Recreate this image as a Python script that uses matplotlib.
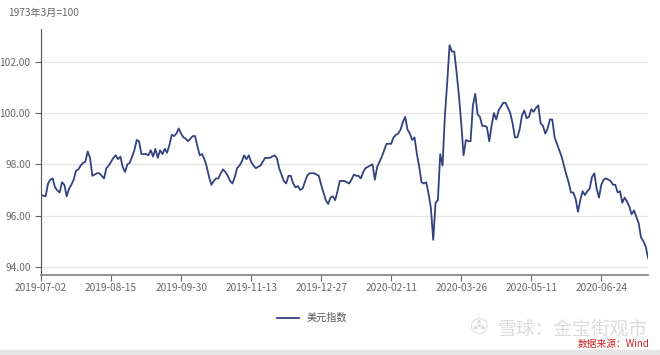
import matplotlib.pyplot as plt
import matplotlib.patches as mpatches

plt.rcParams['font.family'] = ['Noto Sans CJK SC', 'DejaVu Sans']

# 美元指数, 2019-07-02 起的交易日
tick_dates = ['2019-07-02', '2019-08-15', '2019-09-30', '2019-11-13', '2019-12-27',
              '2020-02-11', '2020-03-26', '2020-05-11', '2020-06-24']
dxy = [
    96.80, 96.78, 96.75, 97.25, 97.40, 97.45, 97.10, 96.98, 96.90, 97.30,
    97.20, 96.75, 97.05, 97.20, 97.40, 97.75, 97.80, 97.95, 98.05, 98.10,
    98.50, 98.25, 97.55, 97.60, 97.65, 97.65, 97.55, 97.45, 97.85, 97.95,
    98.10, 98.25, 98.35, 98.20, 98.30, 97.90, 97.70, 98.00, 98.05, 98.30,
    98.55, 98.95, 98.90, 98.40, 98.40, 98.40, 98.35, 98.55, 98.30, 98.60,
    98.25, 98.55, 98.40, 98.60, 98.45, 98.75, 99.15, 99.10, 99.20, 99.40,
    99.20, 99.05, 99.00, 98.90, 99.00, 99.10, 99.10, 98.70, 98.35, 98.40,
    98.20, 97.90, 97.50, 97.20, 97.35, 97.45, 97.45, 97.65, 97.80, 97.70,
    97.55, 97.35, 97.25, 97.50, 97.85, 97.95, 98.10, 98.35, 98.20, 98.35,
    98.10, 97.95, 97.85, 97.90, 97.95, 98.10, 98.25, 98.25, 98.25, 98.30,
    98.35, 98.25, 97.85, 97.60, 97.35, 97.25, 97.55, 97.55, 97.25, 97.10,
    97.15, 97.00, 97.05, 97.30, 97.55, 97.65, 97.65, 97.65, 97.60, 97.55,
    97.20, 96.90, 96.60, 96.45, 96.70, 96.75, 96.60, 96.95, 97.35, 97.35,
    97.35, 97.30, 97.25, 97.40, 97.60, 97.55, 97.55, 97.45, 97.70, 97.85,
    97.90, 97.95, 98.00, 97.40, 97.90, 98.10, 98.30, 98.55, 98.80, 98.80,
    98.80, 99.05, 99.15, 99.20, 99.35, 99.65, 99.85, 99.35, 99.20, 98.95,
    99.05, 98.40, 97.90, 97.30, 97.25, 97.30, 96.85, 96.30, 95.05, 96.50,
    96.60, 98.40, 97.95, 99.90, 101.20, 102.65, 102.40, 102.40, 101.60, 100.70,
    99.60, 98.35, 98.95, 98.90, 98.90, 100.30, 100.75, 99.95, 99.85, 99.50,
    99.50, 99.45, 98.90, 99.50, 100.00, 99.75, 100.10, 100.25, 100.40, 100.40,
    100.20, 100.00, 99.60, 99.05, 99.05, 99.35, 99.90, 100.10, 99.80, 99.85,
    100.15, 100.05, 100.20, 100.30, 99.60, 99.50, 99.20, 99.40, 99.75, 99.75,
    99.05, 98.80, 98.55, 98.30, 97.95, 97.60, 97.30, 96.90, 96.90, 96.65,
    96.15, 96.60, 96.95, 96.80, 96.95, 97.05, 97.50, 97.65, 97.05, 96.70,
    97.20, 97.40, 97.45, 97.40, 97.35, 97.20, 97.20, 96.90, 96.95, 96.50,
    96.70, 96.55, 96.35, 96.05, 96.20, 95.95, 95.70, 95.15, 95.00, 94.80,
    94.35,
]
yticks = [94, 96, 98, 100, 102]

fig = plt.figure(figsize=(6.6, 3.55), dpi=100)
ax = fig.add_axes([41/660, 1 - 275/355, 607/660, 246/355])

x = list(range(len(dxy)))
ax.plot(x, dxy, color='#34427f', lw=1.3, label='美元指数')

ax.set_xlim(0, len(dxy) - 1)
ax.set_ylim(93.68, 103.28)
ax.set_yticks(yticks)
ax.set_yticklabels(['%.2f' % v for v in yticks])
ax.set_xticks([i * 30 for i in range(len(tick_dates))])
ax.set_xticklabels(tick_dates)

ax.grid(axis='y', color='#e6e6e6', lw=0.9)
ax.set_axisbelow(True)
for s in ['top', 'right']:
    ax.spines[s].set_visible(False)
ax.spines['left'].set_color('#555555')
ax.spines['bottom'].set_color('#888888')
ax.spines['bottom'].set_linewidth(1.3)
ax.tick_params(axis='both', colors='#666666', labelsize=7.3, length=4, width=0.8)
ax.tick_params(axis='x', pad=2)

fig.text(8/660, 1 - 13/355, '1973年3月=100', fontsize=7.3, color='#666666', va='center')

fig.legend(loc='center', bbox_to_anchor=(312/660, 1 - 318/355), frameon=False,
           fontsize=7.3, handlelength=2.2, labelcolor='#555555')

# 水印
fig.text(498/660, 1 - 329/355, '雪球：金宝街观市', fontsize=13.5, color='#dcdcdc', va='center')
fig.text(478/660, 1 - 328/355, '✇', fontsize=16, color='#dcdcdc', va='center', ha='center',
         family=['DejaVu Sans'])
fig.text(650/660, 1 - 344/355, '数据来源：Wind', fontsize=7, color='#cc2222', va='center',
         ha='right', style='italic')
fig.patches.append(mpatches.Rectangle((0, 0), 1, 5/355, transform=fig.transFigure,
                                      color='#e6e6e6', zorder=0))

fig.savefig('out.png', dpi=100)
